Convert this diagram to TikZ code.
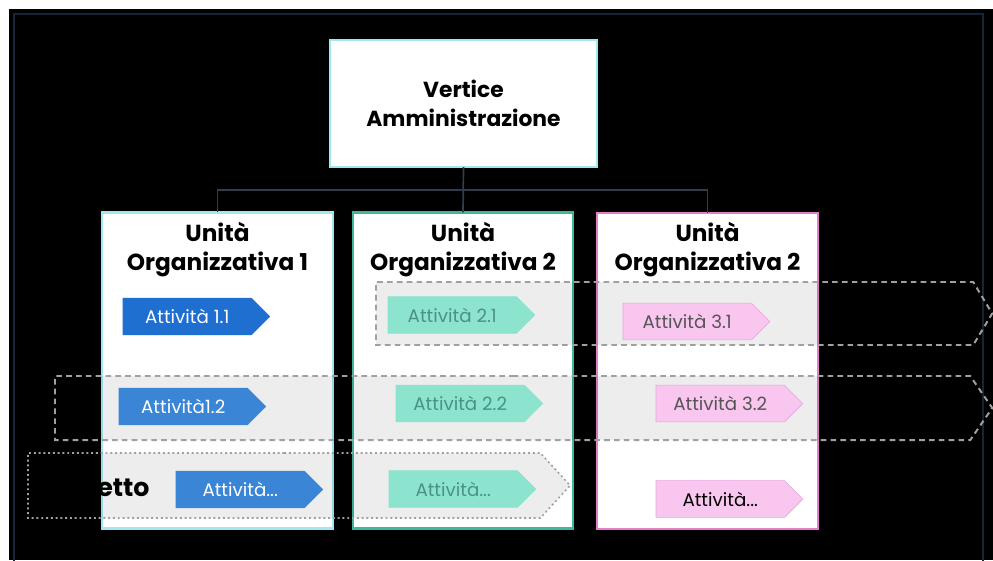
\documentclass[tikz,border=0pt]{standalone}
\usepackage{fontspec}
\setmainfont{Poppins}
\usetikzlibrary{shapes.symbols}

\definecolor{frameblue}{HTML}{15263B}
\definecolor{linkgray}{HTML}{2E3E4C}
\definecolor{unitcyan}{HTML}{A3E6F0}
\definecolor{unitteal}{HTML}{3DB89A}
\definecolor{unitpink}{HTML}{E27FC9}
\definecolor{blueA}{HTML}{1F6FD0}
\definecolor{blueB}{HTML}{3A85D5}
\definecolor{mint}{HTML}{8DE4CE}
\definecolor{minttext}{HTML}{4A9282}
\definecolor{pinkfill}{HTML}{F8C6EF}
\definecolor{pinkdraw}{HTML}{EBA3DC}
\definecolor{pinktext}{HTML}{555555}
\definecolor{bandgray}{HTML}{A0A0A0}

\tikzset{
  unitbox/.style={draw=#1, line width=2pt, fill=white, inner sep=0pt, outer sep=0pt},
  unittitle/.style={align=center, font=\bfseries\fontsize{16.5}{20.6}\selectfont, text=black},
  conn/.style={draw=linkgray, line width=1.2pt},
  activity/.style={signal, signal to=east, signal pointer angle=90, draw=#1, fill=#1,
    minimum width=3.67cm, minimum height=0.92cm, inner sep=0pt, outer sep=0pt,
    anchor=west, font=\fontsize{13}{15}\selectfont},
  band/.style={signal, signal to=east, signal pointer angle=#1, draw=bandgray,
    fill=black, fill opacity=0.07, draw opacity=1, text opacity=1,
    line width=1.4pt, inner sep=0pt, outer sep=0pt, anchor=west},
}

\begin{document}
\begin{tikzpicture}[x=0.025cm, y=-0.025cm]
\useasboundingbox (0,0) rectangle (993,560);
% sfondo e cornice
\fill[white] (0,0) rectangle (993,560);
\fill[black] (9,9) rectangle (993,560);
\draw[frameblue, line width=2pt] (14,14) rectangle (983,580);

% vertice
\node[unitbox=unitcyan, minimum width=6.675cm, minimum height=3.175cm] (vert) at (463.5,103.5) {};
\node[unittitle, font=\bfseries\fontsize{15.5}{20.6}\selectfont] (vertlabel) at (vert.center) {Vertice\\Amministrazione};

% unita organizzative
\node[unitbox=unitcyan, minimum width=5.775cm, minimum height=7.9cm] (u1) at (217.5,370.5) {};
\node[unitbox=unitteal, minimum width=5.5cm, minimum height=7.9cm] (u2) at (463,370.5) {};
\node[unitbox=unitpink, minimum width=5.525cm, minimum height=7.9cm] (u3) at (707.5,371) {};
\node[unittitle] (t1) at (217.5,250) {Unità\\Organizzativa 1};
\node[unittitle] (t2) at (463,250) {Unità\\Organizzativa 2};
\node[unittitle] (t3) at (707.5,250) {Unità\\Organizzativa 2};

\coordinate (hub) at (463,190);
\draw[conn] (vert.south) -- (u2.north);
\draw[conn] (hub) -| (u1.north);
\draw[conn] (hub) -| (u3.north);

% fasce dei processi
\node[band=118, dash pattern=on 4pt off 3pt, minimum width=15.4cm, minimum height=1.575cm] (bandA) at (376,313.5) {};
\node[band=111, dash pattern=on 4pt off 3pt, minimum width=23.425cm, minimum height=1.6cm] (bandB) at (55,408) {};
\node[band=95, dotted, line width=1.1pt, minimum width=13.55cm, minimum height=1.625cm] (bandC) at (28,485.5) {};
\node[font=\bfseries\fontsize{18}{20}\selectfont, text=black, anchor=west, inner sep=0pt] (progetto) at (97,488) {etto};

% attivita
\node[activity=blueA, text=white] (a11) at (123,316.5) {Attività 1.1};
\node[activity=mint, text=minttext] (a21) at (388,315) {Attività 2.1};
\node[activity=pinkfill, draw=pinkdraw, text=pinktext] (a31) at (623,321.5) {Attività 3.1};
\node[activity=blueB, text=white] (a12) at (119,406.5) {Attività1.2};
\node[activity=mint, text=minttext] (a22) at (396,403.5) {Attività 2.2};
\node[activity=pinkfill, draw=pinkdraw, text=pinktext] (a32) at (656,403.5) {Attività 3.2};
\node[activity=blueB, text=white] (a13) at (176,489.5) {Attività...};
\node[activity=mint, text=minttext] (a23) at (389,489) {Attività...};
\node[activity=pinkfill, draw=pinkdraw, text=black] (a33) at (656,499) {Attività...};
\end{tikzpicture}
\end{document}
